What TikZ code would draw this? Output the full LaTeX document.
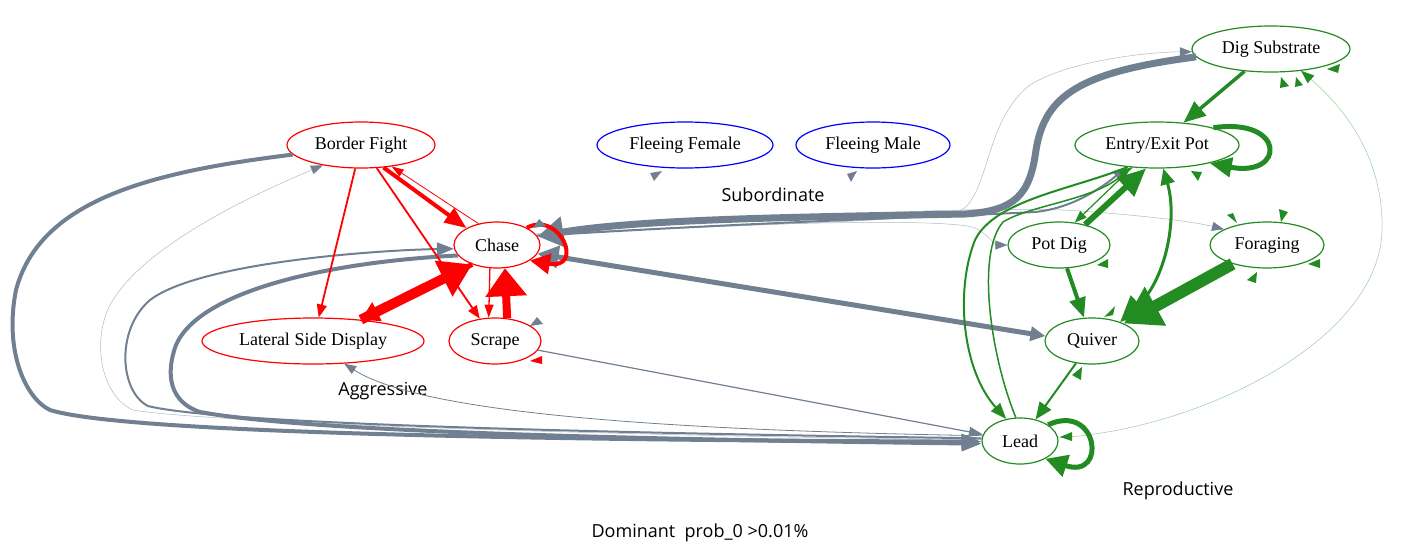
\documentclass[tikz,border=0pt]{standalone}
\usepackage{fontspec}
\setmainfont{Liberation Serif}
\newfontfamily\labfont{Open Sans}
\usetikzlibrary{shapes.geometric,arrows.meta}
\definecolor{slate}{RGB}{112,128,144}
\definecolor{fgreen}{RGB}{34,139,34}
\newcommand\stubtri[4]{\fill[#1] #2 -- #3 -- #4 -- cycle;}
\begin{document}
\begin{tikzpicture}[x=1pt,y=-1pt,
  nd/.style={ellipse, draw, line width=1.2pt, inner sep=0pt, minimum height=46pt,
             font=\fontsize{18}{20}\selectfont},
  rd/.style={nd, draw=red},
  bl/.style={nd, draw=blue},
  gn/.style={nd, draw=fgreen},
  lab/.style={inner sep=0pt, font=\labfont\fontsize{18}{21}\selectfont},
  tip/.style 2 args={-{Triangle[length=#1,width=#2]}},
  redge/.style={draw=red},
  gedge/.style={draw=slate},
  gnedge/.style={draw=fgreen},
  lightg/.style={draw=slate!55, line width=0.5pt, -{Triangle[length=12pt,width=9pt,color=slate,fill=slate]}},
]
\useasboundingbox (0,0) rectangle (1401,555);

% nodes
\node[rd, minimum width=148pt] (bf) at (361,145) {Border Fight};
\node[rd, minimum width=86pt] (ch) at (497,245) {Chase};
\node[rd, minimum width=222pt] (lsd) at (313,341) {Lateral Side Display};
\node[rd, minimum width=92pt] (sc) at (495,341) {Scrape};
\node[bl, minimum width=176pt] (ff) at (685,145) {Fleeing Female};
\node[bl, minimum width=154pt] (fm) at (873,145) {Fleeing Male};
\node[gn, minimum width=158pt] (ds) at (1271,49) {Dig Substrate};
\node[gn, minimum width=164pt] (eep) at (1157,145) {Entry/Exit Pot};
\node[gn, minimum width=102pt] (pd) at (1059,245) {Pot Dig};
\node[gn, minimum width=114pt] (fo) at (1267,245) {Foraging};
\node[gn, minimum width=94pt] (qu) at (1092,341) {Quiver};
\node[gn, minimum width=76pt] (ld) at (1020,441) {Lead};

% cluster labels
\node[lab] (lsub) at (773,195) {Subordinate};
\node[lab] (lagg) at (383,391) {Aggressive};
\node[lab] (lrep) at (1178,491) {Reproductive};
\node[lab] (ldom) at (700,533) {Dominant\ \ prob\_0 >0.01\%};

% ---------- gray (between groups)
\draw[lightg] (ld.178) .. controls (600,436) and (200,422) .. (133,410)
   .. controls (100,395) and (92,340) .. (110,305)
   .. controls (140,250) and (240,200) .. (bf.-152);
\draw[lightg] (ch.14) .. controls (750,223) and (935,222) .. (962,210)
   .. controls (990,190) and (985,120) .. (1030,85)
   .. controls (1070,60) and (1150,52) .. (ds.182);
\draw[lightg] (ch.16) .. controls (780,215) and (1000,205) .. (1080,211)
   .. controls (1150,216) and (1195,222) .. (fo.160);
\draw[lightg] (ch.15) .. controls (760,222) and (950,218) .. (975,228)
   .. controls (990,236) and (995,245) .. (pd.180);
\draw[gedge, line width=2pt, tip={14pt}{11pt}] (ch.13) .. controls (760,222) and (960,216) .. (1035,212)
   .. controls (1075,208) and (1105,185) .. (eep.-144);
\draw[gedge, line width=7pt, tip={26pt}{30pt}] (ds.186) .. controls (1080,72) and (1045,95) .. (1036,150)
   .. controls (1030,195) and (1015,211) .. (965,214)
   .. controls (800,217) and (640,219) .. (ch.12);
\draw[gedge, line width=5pt, {Triangle[length=15pt,width=14pt]}-{Triangle[length=21pt,width=22pt]}]
   (qu.174) -- (ch.-12);
\draw[gedge, line width=4pt, tip={20pt}{15pt}] (bf.188) .. controls (150,172) and (40,200) .. (16,290)
   .. controls (4,350) and (25,398) .. (50,410)
   .. controls (120,432) and (500,440) .. (ld.181);
\draw[gedge, line width=2pt, tip={17pt}{13pt}] (ld.176) .. controls (600,433) and (220,424) .. (148,406)
   .. controls (120,392) and (115,330) .. (150,300)
   .. controls (200,262) and (380,250) .. (ch.185);
\draw[gedge, line width=4pt, tip={20pt}{15pt}] (ch.195) .. controls (330,262) and (200,290) .. (176,345)
   .. controls (165,375) and (170,402) .. (200,412)
   .. controls (320,434) and (700,440) .. (ld.184);
\draw[gedge, line width=0.8pt, tip={12pt}{9pt}] (ld.172) .. controls (650,430) and (420,412) .. (lsd.-36);
\draw[gedge, line width=1.2pt, tip={14pt}{10pt}] (sc.-12) -- (ld.170);

% ---------- red (aggressive)
\draw[redge, line width=1.8pt, tip={13pt}{10pt}] (bf) -- (lsd);
\draw[redge, line width=1.8pt, tip={13pt}{10pt}] (bf) -- (sc);
\draw[redge, line width=4pt, tip={22pt}{17pt}] (bf.-45) -- (ch.151);
\draw[redge, line width=0.8pt, tip={12pt}{8pt}] (ch.131) -- (bf.-35);
\draw[redge, line width=10pt, tip={32pt}{38pt}] (lsd.24) -- (ch.218);
\draw[redge, line width=5pt, tip={18pt}{20pt}] (ch.218) -- (lsd.24);
\draw[redge, line width=1.3pt, tip={13pt}{9pt}] (ch.253) -- (sc.105);
\draw[redge, line width=8pt, tip={28pt}{40pt}] (sc.62) -- (ch.-71);
\draw[redge, line width=4pt, tip={20pt}{20pt}] (ch.30) .. controls (560,210) and (585,270) .. (ch.-25);

% ---------- green (reproductive)
\draw[draw=fgreen!45, line width=0.5pt, -{Triangle[length=13pt,width=10pt,color=fgreen,fill=fgreen]}]
   (ld.5) .. controls (1200,430) and (1380,340) .. (1382,230)
   .. controls (1384,150) and (1335,100) .. (ds.-36);
\draw[gnedge, line width=3.5pt, tip={22pt}{18pt}] (ds) -- (eep);
\draw[gnedge, line width=5pt, tip={22pt}{19pt}] (eep.17) .. controls (1286,117) and (1286,178) .. (eep.-19);
\draw[gnedge, line width=6pt, tip={28pt}{24pt}] (pd.38) -- (eep.-115);
\draw[gnedge, line width=1.2pt, tip={12pt}{9pt}] (eep.-138) -- (pd.55);
\draw[gnedge, line width=3pt, {Triangle[length=26pt,width=24pt]}-{Triangle[length=16pt,width=14pt]}]
   (qu.34) .. controls (1165,280) and (1178,220) .. (eep.-75);
\draw[gnedge, line width=12pt, tip={36pt}{42pt}] (fo) -- (qu);
\draw[gnedge, line width=4pt, tip={20pt}{16pt}] (pd) -- (qu);
\draw[gnedge, line width=2pt, tip={17pt}{14pt}] (qu) -- (ld);
\draw[gnedge, line width=2pt, tip={16pt}{12pt}] (eep.-143) .. controls (1070,190) and (995,200) .. (975,240)
   .. controls (955,290) and (962,370) .. (ld.122);
\draw[gnedge, line width=1.5pt, tip={12pt}{9pt}] (ld.100) .. controls (992,360) and (975,255) .. (1003,222)
   .. controls (1030,205) and (1095,200) .. (eep.-140);
\draw[gnedge, line width=5pt, tip={22pt}{22pt}] (ld.30) .. controls (1098,402) and (1108,480) .. (ld.-35);

% ---------- stub arrowheads
\stubtri{slate}{(533,228)}{(539,219)}{(546,226)}
\stubtri{slate}{(530,326)}{(537,317)}{(543,324)}
\stubtri{slate}{(650,173)}{(662,171)}{(654,181)}
\stubtri{slate}{(847,174)}{(857,171)}{(851,182)}
\stubtri{red}{(542,356)}{(542,364)}{(530,361)}
\stubtri{fgreen}{(1281,77)}{(1289,86)}{(1280,88)}
\stubtri{fgreen}{(1296,77)}{(1303,85)}{(1295,87)}
\stubtri{fgreen}{(1327,69)}{(1340,64)}{(1338,73)}
\stubtri{fgreen}{(1191,171)}{(1202,172)}{(1198,181)}
\stubtri{fgreen}{(1227,215)}{(1233,213)}{(1237,223)}
\stubtri{fgreen}{(1279,209)}{(1288,212)}{(1281,222)}
\stubtri{fgreen}{(1320,259)}{(1320,268)}{(1308,264)}
\stubtri{fgreen}{(1257,272)}{(1256,283)}{(1247,280)}
\stubtri{fgreen}{(1108,259)}{(1108,268)}{(1097,265)}
\stubtri{fgreen}{(1115,306)}{(1113,315)}{(1104,317)}
\stubtri{fgreen}{(1082,367)}{(1081,380)}{(1072,375)}
\stubtri{fgreen}{(1072,432)}{(1072,441)}{(1060,437)}
\end{tikzpicture}
\end{document}
